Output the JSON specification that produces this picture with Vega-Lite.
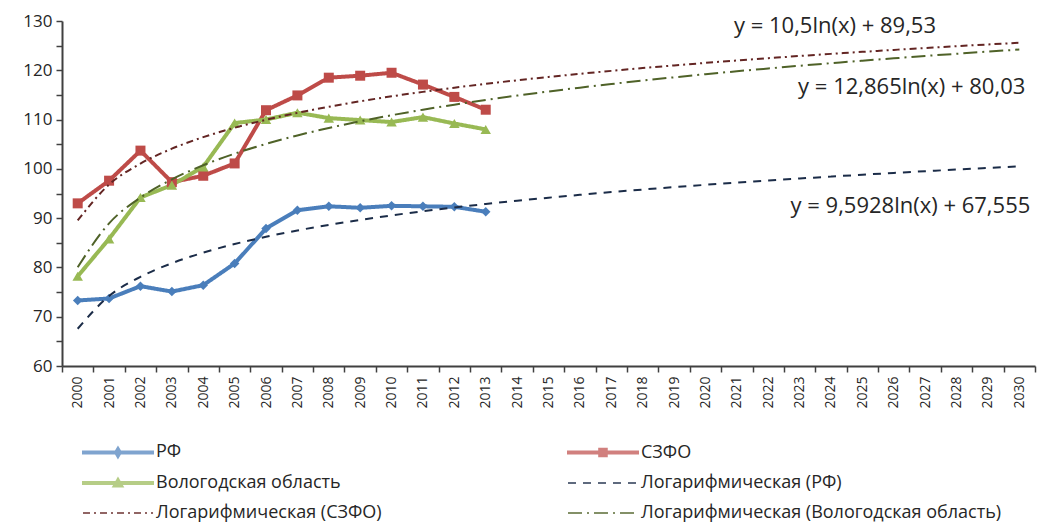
{
  "$schema": "https://vega.github.io/schema/vega-lite/v6.json",
  "width": 973,
  "height": 345,
  "autosize": "none",
  "padding": {"left": 62, "top": 21, "right": 4, "bottom": 156},
  "background": "#ffffff",
  "config": {
    "view": {"stroke": null},
    "font": "Open Sans",
    "legend": {
      "orient": "none",
      "legendX": 18,
      "legendY": 422,
      "columns": 2,
      "padding": 0,
      "title": null,
      "labelFont": "Open Sans",
      "labelFontSize": 18,
      "labelColor": "#262626",
      "labelOffset": 58,
      "symbolSize": 144,
      "symbolStrokeWidth": 2,
      "rowPadding": 12,
      "columnPadding": 182,
      "labelLimit": 500
    }
  },
  "datasets": {
    "obs": [
      {"year": 2000, "series": "РФ", "value": 73.3},
      {"year": 2001, "series": "РФ", "value": 73.7},
      {"year": 2002, "series": "РФ", "value": 76.2},
      {"year": 2003, "series": "РФ", "value": 75.1},
      {"year": 2004, "series": "РФ", "value": 76.4},
      {"year": 2005, "series": "РФ", "value": 80.8},
      {"year": 2006, "series": "РФ", "value": 87.9},
      {"year": 2007, "series": "РФ", "value": 91.6},
      {"year": 2008, "series": "РФ", "value": 92.4},
      {"year": 2009, "series": "РФ", "value": 92.1},
      {"year": 2010, "series": "РФ", "value": 92.5},
      {"year": 2011, "series": "РФ", "value": 92.4},
      {"year": 2012, "series": "РФ", "value": 92.3},
      {"year": 2013, "series": "РФ", "value": 91.3},
      {"year": 2000, "series": "СЗФО", "value": 93.0},
      {"year": 2001, "series": "СЗФО", "value": 97.6},
      {"year": 2002, "series": "СЗФО", "value": 103.7},
      {"year": 2003, "series": "СЗФО", "value": 97.3},
      {"year": 2004, "series": "СЗФО", "value": 98.6},
      {"year": 2005, "series": "СЗФО", "value": 101.1},
      {"year": 2006, "series": "СЗФО", "value": 111.9},
      {"year": 2007, "series": "СЗФО", "value": 114.9},
      {"year": 2008, "series": "СЗФО", "value": 118.5},
      {"year": 2009, "series": "СЗФО", "value": 118.9},
      {"year": 2010, "series": "СЗФО", "value": 119.5},
      {"year": 2011, "series": "СЗФО", "value": 117.1},
      {"year": 2012, "series": "СЗФО", "value": 114.6},
      {"year": 2013, "series": "СЗФО", "value": 112.0},
      {"year": 2000, "series": "Вологодская область", "value": 78.2},
      {"year": 2001, "series": "Вологодская область", "value": 85.8},
      {"year": 2002, "series": "Вологодская область", "value": 94.2},
      {"year": 2003, "series": "Вологодская область", "value": 96.7},
      {"year": 2004, "series": "Вологодская область", "value": 100.4},
      {"year": 2005, "series": "Вологодская область", "value": 109.3},
      {"year": 2006, "series": "Вологодская область", "value": 110.0},
      {"year": 2007, "series": "Вологодская область", "value": 111.4},
      {"year": 2008, "series": "Вологодская область", "value": 110.3},
      {"year": 2009, "series": "Вологодская область", "value": 109.9},
      {"year": 2010, "series": "Вологодская область", "value": 109.5},
      {"year": 2011, "series": "Вологодская область", "value": 110.5},
      {"year": 2012, "series": "Вологодская область", "value": 109.2},
      {"year": 2013, "series": "Вологодская область", "value": 108.0}
    ],
    "trend": [
      {"year": 2000, "series": "Логарифмическая (РФ)", "value": 67.56},
      {"year": 2001, "series": "Логарифмическая (РФ)", "value": 74.20},
      {"year": 2002, "series": "Логарифмическая (РФ)", "value": 78.09},
      {"year": 2003, "series": "Логарифмическая (РФ)", "value": 80.85},
      {"year": 2004, "series": "Логарифмическая (РФ)", "value": 82.99},
      {"year": 2005, "series": "Логарифмическая (РФ)", "value": 84.74},
      {"year": 2006, "series": "Логарифмическая (РФ)", "value": 86.22},
      {"year": 2007, "series": "Логарифмическая (РФ)", "value": 87.50},
      {"year": 2008, "series": "Логарифмическая (РФ)", "value": 88.63},
      {"year": 2009, "series": "Логарифмическая (РФ)", "value": 89.64},
      {"year": 2010, "series": "Логарифмическая (РФ)", "value": 90.56},
      {"year": 2011, "series": "Логарифмическая (РФ)", "value": 91.39},
      {"year": 2012, "series": "Логарифмическая (РФ)", "value": 92.16},
      {"year": 2013, "series": "Логарифмическая (РФ)", "value": 92.87},
      {"year": 2014, "series": "Логарифмическая (РФ)", "value": 93.53},
      {"year": 2015, "series": "Логарифмическая (РФ)", "value": 94.15},
      {"year": 2016, "series": "Логарифмическая (РФ)", "value": 94.73},
      {"year": 2017, "series": "Логарифмическая (РФ)", "value": 95.28},
      {"year": 2018, "series": "Логарифмическая (РФ)", "value": 95.80},
      {"year": 2019, "series": "Логарифмическая (РФ)", "value": 96.29},
      {"year": 2020, "series": "Логарифмическая (РФ)", "value": 96.76},
      {"year": 2021, "series": "Логарифмическая (РФ)", "value": 97.21},
      {"year": 2022, "series": "Логарифмическая (РФ)", "value": 97.63},
      {"year": 2023, "series": "Логарифмическая (РФ)", "value": 98.04},
      {"year": 2024, "series": "Логарифмическая (РФ)", "value": 98.43},
      {"year": 2025, "series": "Логарифмическая (РФ)", "value": 98.81},
      {"year": 2026, "series": "Логарифмическая (РФ)", "value": 99.17},
      {"year": 2027, "series": "Логарифмическая (РФ)", "value": 99.52},
      {"year": 2028, "series": "Логарифмическая (РФ)", "value": 99.86},
      {"year": 2029, "series": "Логарифмическая (РФ)", "value": 100.18},
      {"year": 2030, "series": "Логарифмическая (РФ)", "value": 100.50},
      {"year": 2000, "series": "Логарифмическая (СЗФО)", "value": 89.53},
      {"year": 2001, "series": "Логарифмическая (СЗФО)", "value": 96.81},
      {"year": 2002, "series": "Логарифмическая (СЗФО)", "value": 101.07},
      {"year": 2003, "series": "Логарифмическая (СЗФО)", "value": 104.09},
      {"year": 2004, "series": "Логарифмическая (СЗФО)", "value": 106.43},
      {"year": 2005, "series": "Логарифмическая (СЗФО)", "value": 108.34},
      {"year": 2006, "series": "Логарифмическая (СЗФО)", "value": 109.96},
      {"year": 2007, "series": "Логарифмическая (СЗФО)", "value": 111.36},
      {"year": 2008, "series": "Логарифмическая (СЗФО)", "value": 112.60},
      {"year": 2009, "series": "Логарифмическая (СЗФО)", "value": 113.71},
      {"year": 2010, "series": "Логарифмическая (СЗФО)", "value": 114.71},
      {"year": 2011, "series": "Логарифмическая (СЗФО)", "value": 115.62},
      {"year": 2012, "series": "Логарифмическая (СЗФО)", "value": 116.46},
      {"year": 2013, "series": "Логарифмическая (СЗФО)", "value": 117.24},
      {"year": 2014, "series": "Логарифмическая (СЗФО)", "value": 117.97},
      {"year": 2015, "series": "Логарифмическая (СЗФО)", "value": 118.64},
      {"year": 2016, "series": "Логарифмическая (СЗФО)", "value": 119.28},
      {"year": 2017, "series": "Логарифмическая (СЗФО)", "value": 119.88},
      {"year": 2018, "series": "Логарифмическая (СЗФО)", "value": 120.45},
      {"year": 2019, "series": "Логарифмическая (СЗФО)", "value": 120.99},
      {"year": 2020, "series": "Логарифмическая (СЗФО)", "value": 121.50},
      {"year": 2021, "series": "Логарифмическая (СЗФО)", "value": 121.99},
      {"year": 2022, "series": "Логарифмическая (СЗФО)", "value": 122.45},
      {"year": 2023, "series": "Логарифмическая (СЗФО)", "value": 122.90},
      {"year": 2024, "series": "Логарифмическая (СЗФО)", "value": 123.33},
      {"year": 2025, "series": "Логарифмическая (СЗФО)", "value": 123.74},
      {"year": 2026, "series": "Логарифмическая (СЗФО)", "value": 124.14},
      {"year": 2027, "series": "Логарифмическая (СЗФО)", "value": 124.52},
      {"year": 2028, "series": "Логарифмическая (СЗФО)", "value": 124.89},
      {"year": 2029, "series": "Логарифмическая (СЗФО)", "value": 125.24},
      {"year": 2030, "series": "Логарифмическая (СЗФО)", "value": 125.59},
      {"year": 2000, "series": "Логарифмическая (Вологодская область)", "value": 80.03},
      {"year": 2001, "series": "Логарифмическая (Вологодская область)", "value": 88.95},
      {"year": 2002, "series": "Логарифмическая (Вологодская область)", "value": 94.16},
      {"year": 2003, "series": "Логарифмическая (Вологодская область)", "value": 97.86},
      {"year": 2004, "series": "Логарифмическая (Вологодская область)", "value": 100.74},
      {"year": 2005, "series": "Логарифмическая (Вологодская область)", "value": 103.08},
      {"year": 2006, "series": "Логарифмическая (Вологодская область)", "value": 105.06},
      {"year": 2007, "series": "Логарифмическая (Вологодская область)", "value": 106.78},
      {"year": 2008, "series": "Логарифмическая (Вологодская область)", "value": 108.30},
      {"year": 2009, "series": "Логарифмическая (Вологодская область)", "value": 109.65},
      {"year": 2010, "series": "Логарифмическая (Вологодская область)", "value": 110.88},
      {"year": 2011, "series": "Логарифмическая (Вологодская область)", "value": 112.00},
      {"year": 2012, "series": "Логарифмическая (Вологодская область)", "value": 113.03},
      {"year": 2013, "series": "Логарифмическая (Вологодская область)", "value": 113.98},
      {"year": 2014, "series": "Логарифмическая (Вологодская область)", "value": 114.87},
      {"year": 2015, "series": "Логарифмическая (Вологодская область)", "value": 115.70},
      {"year": 2016, "series": "Логарифмическая (Вологодская область)", "value": 116.48},
      {"year": 2017, "series": "Логарифмическая (Вологодская область)", "value": 117.21},
      {"year": 2018, "series": "Логарифмическая (Вологодская область)", "value": 117.91},
      {"year": 2019, "series": "Логарифмическая (Вологодская область)", "value": 118.57},
      {"year": 2020, "series": "Логарифмическая (Вологодская область)", "value": 119.20},
      {"year": 2021, "series": "Логарифмическая (Вологодская область)", "value": 119.80},
      {"year": 2022, "series": "Логарифмическая (Вологодская область)", "value": 120.37},
      {"year": 2023, "series": "Логарифмическая (Вологодская область)", "value": 120.92},
      {"year": 2024, "series": "Логарифмическая (Вологодская область)", "value": 121.44},
      {"year": 2025, "series": "Логарифмическая (Вологодская область)", "value": 121.95},
      {"year": 2026, "series": "Логарифмическая (Вологодская область)", "value": 122.43},
      {"year": 2027, "series": "Логарифмическая (Вологодская область)", "value": 122.90},
      {"year": 2028, "series": "Логарифмическая (Вологодская область)", "value": 123.35},
      {"year": 2029, "series": "Логарифмическая (Вологодская область)", "value": 123.79},
      {"year": 2030, "series": "Логарифмическая (Вологодская область)", "value": 124.21}
    ],
    "labels": [
      {"year": 2024, "value": 129.0, "label": "y = 10,5ln(x) + 89,53"},
      {"year": 2030, "value": 116.6, "label": "y = 12,865ln(x) + 80,03"},
      {"year": 2030, "value": 92.4, "label": "y = 9,5928ln(x) + 67,555"}
    ]
  },
  "encoding": {
    "x": {
      "field": "year",
      "type": "ordinal",
      "scale": {"type": "band", "paddingInner": 0, "paddingOuter": 0},
      "axis": {
        "title": null,
        "labelAngle": -90,
        "labelAlign": "right",
        "labelBaseline": "middle",
        "labelFont": "Open Sans",
        "labelFontSize": 14,
        "labelColor": "#262626",
        "labelPadding": 4,
        "tickBand": "extent",
        "tickSize": 6,
        "tickColor": "#404040",
        "tickWidth": 1.5,
        "domainColor": "#404040",
        "domainWidth": 2,
        "grid": false
      }
    },
    "y": {
      "field": "value",
      "type": "quantitative",
      "scale": {"domain": [60, 130], "nice": false, "zero": false},
      "axis": {
        "title": null,
        "values": [60, 65, 70, 75, 80, 85, 90, 95, 100, 105, 110, 115, 120, 125, 130],
        "labelExpr": "datum.value % 10 == 0 ? datum.label : ''",
        "labelFont": "Open Sans",
        "labelFontSize": 17,
        "labelColor": "#262626",
        "labelPadding": 4,
        "tickSize": 6,
        "tickColor": "#404040",
        "tickWidth": 1.5,
        "domainColor": "#404040",
        "domainWidth": 2,
        "grid": false
      }
    }
  },
  "layer": [
    {
      "data": {"values": []},
      "mark": {"type": "point", "filled": true},
      "encoding": {
        "x": null,
        "y": null,
        "color": {"field": "series", "type": "nominal"},
        "shape": {
          "field": "series",
          "type": "nominal",
          "scale": {
            "domain": ["РФ", "Вологодская область", "Логарифмическая (СЗФО)", "СЗФО", "Логарифмическая (РФ)", "Логарифмическая (Вологодская область)"],
            "range": [
              "M-1,-0.17L10.67,-0.17L10.67,0.17L-1,0.17ZM4.83,-0.85L5.33,0L4.83,0.85L4.33,0Z",
              "M-1,-0.17L10.67,-0.17L10.67,0.17L-1,0.17ZM4.83,-0.75L5.6,0.6L4.06,0.6Z",
              "M-1,0L10.67,0",
              "M-1,-0.17L10.67,-0.17L10.67,0.17L-1,0.17ZM4.2,-0.63L5.46,-0.63L5.46,0.63L4.2,0.63Z",
              "M-1,0L10.67,0",
              "M-1,0L10.67,0"
            ]
          }
        }
      }
    },
    {
      "data": {"name": "obs"},
      "mark": {"type": "line", "strokeWidth": 4},
      "encoding": {
        "color": {
          "field": "series",
          "type": "nominal",
          "scale": {
            "domain": ["РФ", "Вологодская область", "Логарифмическая (СЗФО)", "СЗФО", "Логарифмическая (РФ)", "Логарифмическая (Вологодская область)"],
            "range": ["#4A7EBB", "#98B954", "#632523", "#BE4B48", "#1B2C48", "#4F6228"]
          }
        },
        "strokeDash": {
          "field": "series",
          "type": "nominal",
          "scale": {
            "domain": ["РФ", "Вологодская область", "Логарифмическая (СЗФО)", "СЗФО", "Логарифмическая (РФ)", "Логарифмическая (Вологодская область)"],
            "range": [[1, 0], [1, 0], [7, 4, 2, 4], [1, 0], [8, 7], [14, 5, 2, 5]]
          }
        }
      }
    },
    {
      "data": {"name": "obs"},
      "transform": [{"filter": "datum.series == 'РФ'"}],
      "mark": {"type": "point", "shape": "diamond", "filled": true, "opacity": 1, "size": 90},
      "encoding": {"color": {"field": "series", "type": "nominal"}}
    },
    {
      "data": {"name": "obs"},
      "transform": [{"filter": "datum.series == 'СЗФО'"}],
      "mark": {"type": "point", "shape": "square", "filled": true, "opacity": 1, "size": 100},
      "encoding": {"color": {"field": "series", "type": "nominal"}}
    },
    {
      "data": {"name": "obs"},
      "transform": [{"filter": "datum.series == 'Вологодская область'"}],
      "mark": {"type": "point", "shape": "triangle-up", "filled": true, "opacity": 1, "size": 110},
      "encoding": {"color": {"field": "series", "type": "nominal"}}
    },
    {
      "data": {"name": "trend"},
      "mark": {"type": "line", "strokeWidth": 2, "interpolate": "monotone"},
      "encoding": {
        "color": {"field": "series", "type": "nominal"},
        "strokeDash": {"field": "series", "type": "nominal"}
      }
    },
    {
      "data": {"name": "labels"},
      "transform": [{"filter": "datum.year == 2024"}],
      "mark": {"type": "text", "font": "Open Sans", "fontSize": 22, "color": "#262626", "align": "center", "baseline": "middle", "dx": 4},
      "encoding": {"text": {"field": "label"}}
    },
    {
      "data": {"name": "labels"},
      "transform": [{"filter": "datum.year == 2030 && datum.value > 100"}],
      "mark": {"type": "text", "font": "Open Sans", "fontSize": 22, "color": "#262626", "align": "right", "baseline": "middle", "dx": 6},
      "encoding": {"text": {"field": "label"}}
    },
    {
      "data": {"name": "labels"},
      "transform": [{"filter": "datum.year == 2030 && datum.value < 100"}],
      "mark": {"type": "text", "font": "Open Sans", "fontSize": 22, "color": "#262626", "align": "right", "baseline": "middle", "dx": 11},
      "encoding": {"text": {"field": "label"}}
    }
  ]
}
